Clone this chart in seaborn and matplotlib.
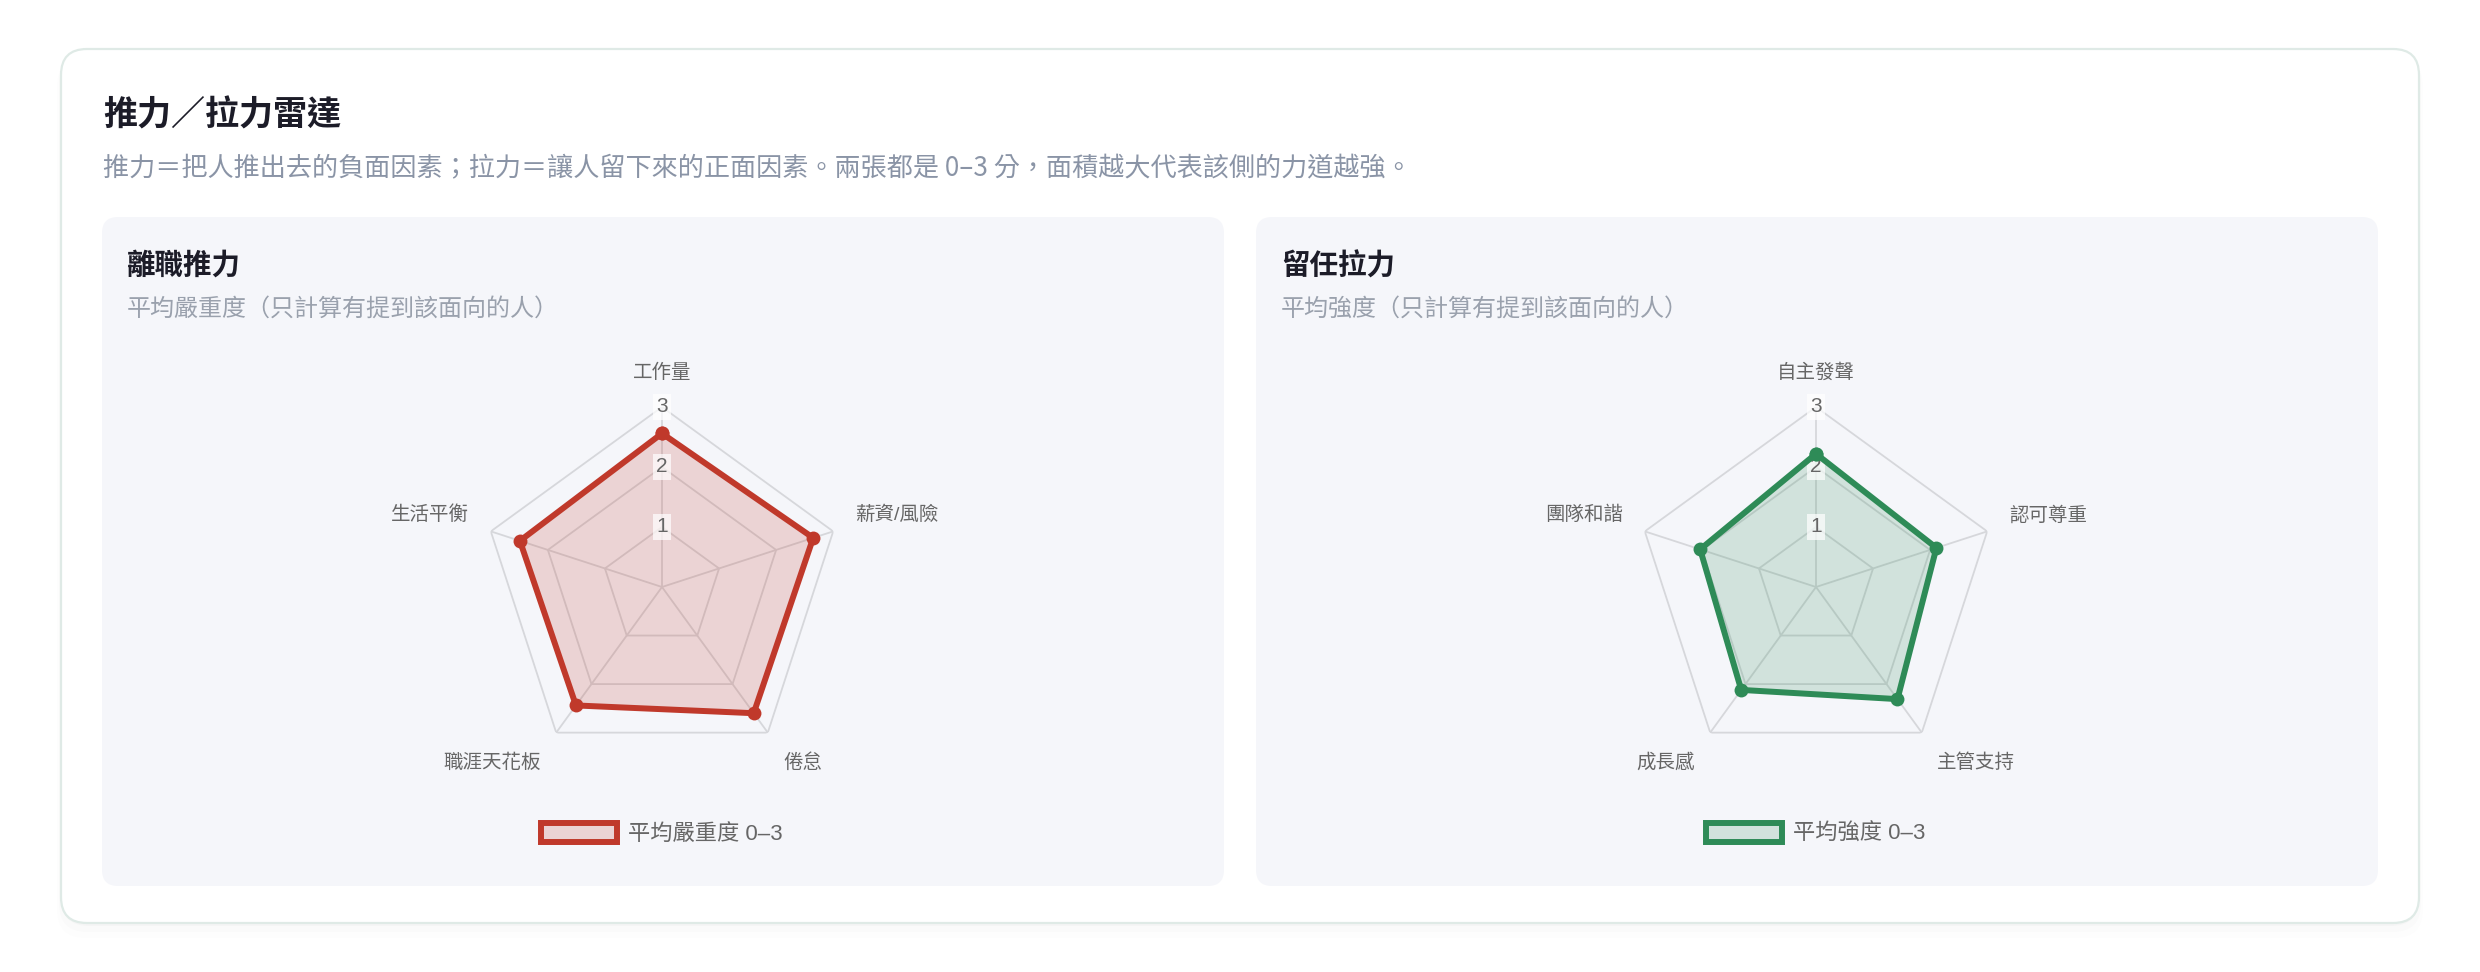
import numpy as np
import matplotlib
matplotlib.use('Agg')
import matplotlib.pyplot as plt
import seaborn as sns
from matplotlib.patches import FancyBboxPatch, Patch
from matplotlib.colors import to_rgba

sns.set_theme(style='white')
plt.rcParams['font.family'] = ['Noto Sans CJK TC', 'DejaVu Sans']
CHART_FONT = ['Liberation Sans', 'Noto Sans CJK TC']

# 資料
push_labels = ['工作量', '薪資/風險', '倦怠', '職涯天花板', '生活平衡']
push_values = [2.56, 2.65, 2.6, 2.44, 2.49]
pull_labels = ['自主發聲', '認可尊重', '主管支持', '成長感', '團隊和諧']
pull_values = [2.22, 2.11, 2.31, 2.12, 2.03]
ticks = [1, 2, 3]

title = '推力／拉力雷達'
subtitle = '推力＝把人推出去的負面因素；拉力＝讓人留下來的正面因素。兩張都是 0–3 分，面積越大代表該側的力道越強。'
push_title = '離職推力'
push_sub = '平均嚴重度（只計算有提到該面向的人）'
push_legend = '平均嚴重度 0–3'
pull_title = '留任拉力'
pull_sub = '平均強度（只計算有提到該面向的人）'
pull_legend = '平均強度 0–3'

RED = '#c0392b'
GREEN = '#2e8b57'
W, H = 2480, 972
R_PX = 180  # 半徑（像素）

fig = plt.figure(figsize=(W / 100, H / 100), dpi=100)
fig.patch.set_facecolor('white')

# 背景層：卡片與面板，以像素為座標
bg = fig.add_axes([0, 0, 1, 1], zorder=0)
bg.set_xlim(0, W)
bg.set_ylim(H, 0)
bg.axis('off')

for k, a in enumerate([0.018, 0.012, 0.006]):
    bg.add_patch(FancyBboxPatch((61 - k * 2, 52 + k * 3), 2358 + k * 4, 874 + k * 3,
                                boxstyle='round,pad=0,rounding_size=28',
                                fc='black', ec='none', alpha=a))
bg.add_patch(FancyBboxPatch((61, 49), 2358, 874, boxstyle='round,pad=0,rounding_size=26',
                            fc='white', ec='#dfeae6', lw=1.6))
for x0 in [102, 1256]:
    bg.add_patch(FancyBboxPatch((x0, 217), 1122, 669, boxstyle='round,pad=0,rounding_size=16',
                                fc='#f5f6fa', ec='none'))

bg.text(103, 115, title, fontsize=24.5, fontweight='bold', color='#1c1c28', va='center', ha='left')
bg.text(103, 169, subtitle, fontsize=18.8, color='#8a94a6', va='center', ha='left')
bg.text(127, 266, push_title, fontsize=20.5, fontweight='bold', color='#1c1c28', va='center')
bg.text(127, 309, push_sub, fontsize=17.3, color='#9aa1ad', va='center')
bg.text(1281, 266, pull_title, fontsize=20.5, fontweight='bold', color='#1c1c28', va='center')
bg.text(1281, 309, pull_sub, fontsize=17.3, color='#9aa1ad', va='center')


def draw_radar(cx, cy, labels, values, color, legend_label):
    ax = fig.add_axes([(cx - R_PX) / W, (H - cy - R_PX) / H, 2 * R_PX / W, 2 * R_PX / H],
                      projection='polar', zorder=1)
    ax.patch.set_alpha(0)
    ax.set_theta_zero_location('N')
    ax.set_theta_direction(-1)
    ax.set_ylim(0, max(ticks))
    ax.set_axis_off()

    n = len(labels)
    theta = np.linspace(0, 2 * np.pi, n, endpoint=False)
    th_closed = np.append(theta, theta[0])
    v_closed = np.append(values, values[0])

    # 多邊形格線
    for t in ticks:
        ax.plot(th_closed, [t] * (n + 1), color='#d6d7db', lw=1.3, zorder=1)
    for th in theta:
        ax.plot([th, th], [0, max(ticks)], color='#d6d7db', lw=1.3, zorder=1)

    ax.fill(th_closed, v_closed, color=color, alpha=0.18, lw=0, zorder=2)
    sns.lineplot(x=th_closed, y=v_closed, sort=False, estimator=None, ax=ax, color=color,
                 lw=4.3, marker='o', markersize=10, markeredgewidth=0, zorder=4)
    ax.set_axis_off()

    for t in ticks:
        ax.text(0, t, str(t), ha='center', va='center', fontsize=15, color='#666666', zorder=3,
                family=CHART_FONT,
                bbox=dict(boxstyle='square,pad=0.15', fc='white', ec='none', alpha=0.7))

    for th, lab in zip(theta, labels):
        deg = np.degrees(th)
        if np.isclose(deg, 0):
            ha, va, r = 'center', 'bottom', 3.42
        else:
            ha = 'left' if deg < 180 else 'right'
            va = 'top' if 90 < deg < 270 else 'bottom'
            r = 3.43 if va == 'top' else 3.38
        ax.text(th, r, lab, ha=ha, va=va, fontsize=14, color='#666666', family=CHART_FONT)

    handle = Patch(facecolor=to_rgba(color, 0.18), edgecolor=color, linewidth=4.3, label=legend_label)
    leg = ax.legend(handles=[handle], loc='center', bbox_to_anchor=(cx / W, 1 - 834 / H),
                    bbox_transform=fig.transFigure, frameon=False,
                    prop={'family': CHART_FONT, 'size': 16},
                    handlelength=3.4, handleheight=0.95, handletextpad=0.5)
    for txt in leg.get_texts():
        txt.set_color('#666666')
    return ax


draw_radar(662, 587, push_labels, push_values, RED, push_legend)
draw_radar(1816, 587, pull_labels, pull_values, GREEN, pull_legend)

fig.savefig('out.png', dpi=100, facecolor='white')
